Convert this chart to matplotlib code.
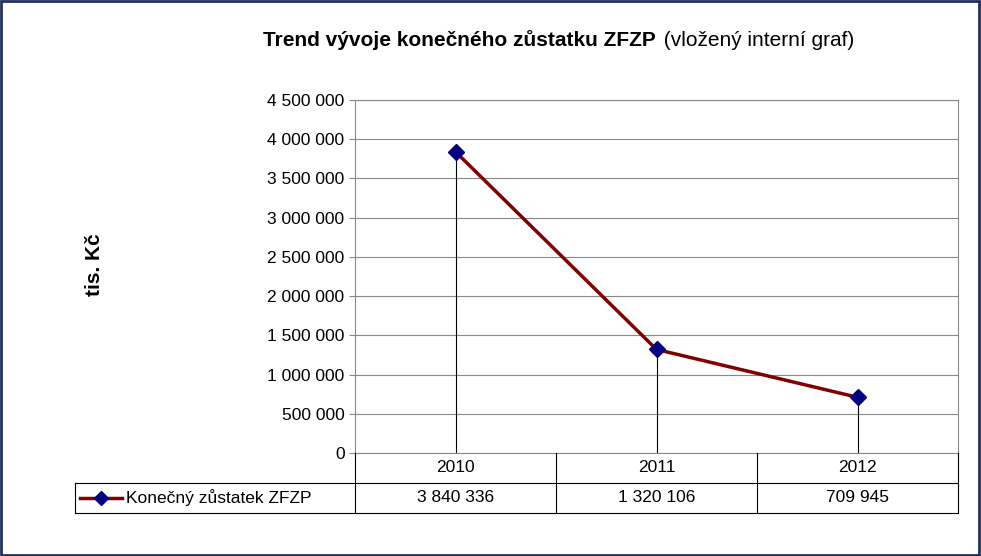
import matplotlib
matplotlib.use("Agg")
import matplotlib.pyplot as plt
from matplotlib.lines import Line2D
from matplotlib.patches import Rectangle

years = ["2010", "2011", "2012"]
values = [3840336, 1320106, 709945]
value_labels = ["3 840 336", "1 320 106", "709 945"]
series_name = "Konečný zůstatek ZFZP"
yticks = list(range(0, 4500001, 500000))

def fmt(v):
    return f"{v:,}".replace(",", " ")

W, H = 981, 556
fig = plt.figure(figsize=(W/100, H/100), dpi=100)
fig.patch.set_facecolor("white")
plt.rcParams["font.family"] = "Liberation Sans"

def fx(x): return x / W
def fy(y): return 1 - y / H

L, R, T, B = 355, 958, 100, 453
ax = fig.add_axes([fx(L), fy(B), fx(R) - fx(L), fy(T) - fy(B)])
x = list(range(len(years)))
ax.set_xlim(-0.5, len(years) - 0.5)
ax.set_ylim(0, 4500000)
ax.set_yticks(yticks)
ax.set_yticklabels([fmt(v) for v in yticks], fontsize=12.5)
ax.set_xticks([])
ax.grid(axis="y", color="#888888", lw=0.8)
ax.set_axisbelow(True)
for s in ax.spines.values():
    s.set_color("#888888")
ax.tick_params(axis="y", length=4, color="#888888")
ax.vlines(x, 0, values, color="black", lw=0.8)
ax.plot(x, values, color="#800000", lw=2.5, marker="D", markersize=8,
        markerfacecolor="#000080", markeredgecolor="#000080", zorder=5)

# data table
r1, r2, r3 = B, 483, 513
colx = [L + (R - L) * i / len(years) for i in range(len(years) + 1)]
lc = "black"
def hline(y, x0, x1): fig.add_artist(Line2D([fx(x0), fx(x1)], [fy(y), fy(y)], color=lc, lw=0.8))
def vline(xx, y0, y1): fig.add_artist(Line2D([fx(xx), fx(xx)], [fy(y0), fy(y1)], color=lc, lw=0.8))
hline(r2, 75, R); hline(r3, 75, R)
vline(75, r2, r3)
for c in colx:
    vline(c, r1, r3)
for i, y in enumerate(years):
    cx = (colx[i] + colx[i+1]) / 2
    fig.text(fx(cx), fy((r1 + r2) / 2), y, ha="center", va="center", fontsize=12.5)
    fig.text(fx(cx), fy((r2 + r3) / 2), value_labels[i], ha="center", va="center", fontsize=12.5)
ym = (r2 + r3) / 2
fig.add_artist(Line2D([fx(80), fx(122)], [fy(ym), fy(ym)], color="#800000", lw=2.5))
fig.add_artist(Line2D([fx(101)], [fy(ym)], marker="D", markersize=7, color="#000080"))
fig.text(fx(126), fy(ym), series_name, ha="left", va="center", fontsize=12.5)

fig.text(fx(656), fy(40), "Trend vývoje konečného zůstatku ZFZP", ha="right", va="center",
         fontsize=15, fontweight="bold")
fig.text(fx(658), fy(40), " (vložený interní graf)", ha="left", va="center", fontsize=15)
fig.text(fx(95), fy(265), "tis. Kč", rotation=90, ha="center", va="center",
         fontsize=15, fontweight="bold")

fig.add_artist(Rectangle((0.001, 0.002), 0.997, 0.996, transform=fig.transFigure,
                         fill=False, edgecolor="#1F2F5F", lw=2))
fig.savefig("out.png", dpi=100)
